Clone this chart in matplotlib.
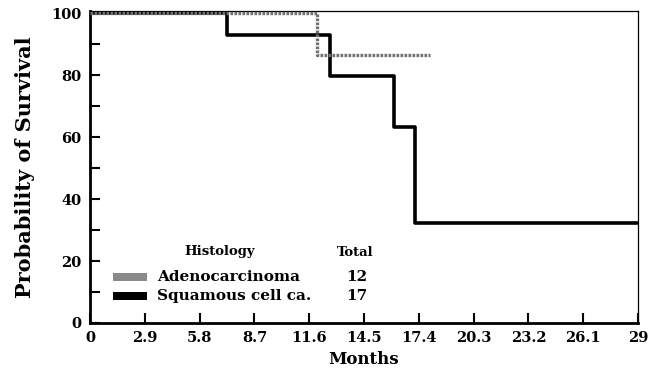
import matplotlib
matplotlib.use("Agg")
import matplotlib.pyplot as plt
from matplotlib.patches import Rectangle

# Data (Kaplan-Meier steps)
squam_t = [0, 7.25, 12.7, 16.1, 17.2, 29]
squam_s = [100, 92.9, 79.6, 63.3, 32.2, 32.2]
adeno_t = [0, 12.0, 18.0]
adeno_s = [100, 86.5, 86.5]

x_ticks = [0, 2.9, 5.8, 8.7, 11.6, 14.5, 17.4, 20.3, 23.2, 26.1, 29]
x_labels = ["0", "2.9", "5.8", "8.7", "11.6", "14.5", "17.4", "20.3", "23.2", "26.1", "29"]
y_ticks = [0, 20, 40, 60, 80, 100]
y_minor = [10, 30, 50, 70, 90]

groups = ["Adenocarcinoma", "Squamous cell ca."]
totals = [12, 17]

FONT = "DejaVu Serif"
plt.rcParams['font.family'] = [FONT]

fig = plt.figure(figsize=(6.51, 3.72), dpi=100)
ax = fig.add_axes([90/651, 49/372, 548/651, 312/372])

ax.step(squam_t, squam_s, where="post", color="black", lw=2.6, solid_capstyle="butt", zorder=3)
ax.step(adeno_t, adeno_s, where="post", color="#707070", lw=2.4, linestyle=(0, (0.8, 0.4)), zorder=4)

ax.set_xlim(0, 29)
ax.set_ylim(0, 100.65)

ax.set_xticks(x_ticks)
ax.set_xticklabels(x_labels)
ax.set_yticks(y_ticks)
ax.set_yticks(y_minor, minor=True)

ax.tick_params(axis="both", which="both", direction="in", length=7, width=1.5, color="black")
ax.tick_params(axis="x", pad=6)
ax.tick_params(axis="y", pad=6)
for lab in ax.get_xticklabels() + ax.get_yticklabels():
    lab.set_fontweight("bold")
    lab.set_fontsize(10.5)
    lab.set_family(FONT)

ax.spines["left"].set_linewidth(2)
ax.spines["bottom"].set_linewidth(2)
ax.spines["top"].set_linewidth(0.9)
ax.spines["right"].set_linewidth(0.9)

ax.set_xlabel("Months", fontsize=12, fontweight="bold", labelpad=4)
ax.set_ylabel("Probability of Survival", fontsize=15, fontweight="bold", labelpad=12)

# Legend
T = ax.transAxes
def fx(px):
    return (px - 90) / 548
def fy(py):
    return (323 - py) / 312

ax.text(fx(220), fy(252), "Histology", transform=T, ha="center", va="center",
        fontsize=9.5, fontweight="bold")
ax.text(fx(355), fy(252), "Total", transform=T, ha="center", va="center",
        fontsize=9.5, fontweight="bold")
leg_y = [277, 296]
colors = ["#8a8a8a", "black"]
for g, tot, py, c in zip(groups, totals, leg_y, colors):
    ax.add_patch(Rectangle((fx(113), fy(py + 4)), fx(147) - fx(113), fy(py - 4) - fy(py + 4),
                           transform=T, facecolor=c, edgecolor="none", clip_on=False))
    ax.text(fx(157), fy(py), g, transform=T, ha="left", va="center",
            fontsize=11, fontweight="bold")
    ax.text(fx(357), fy(py), str(tot), transform=T, ha="center", va="center",
            fontsize=11, fontweight="bold")

fig.savefig("out.png", dpi=100)
